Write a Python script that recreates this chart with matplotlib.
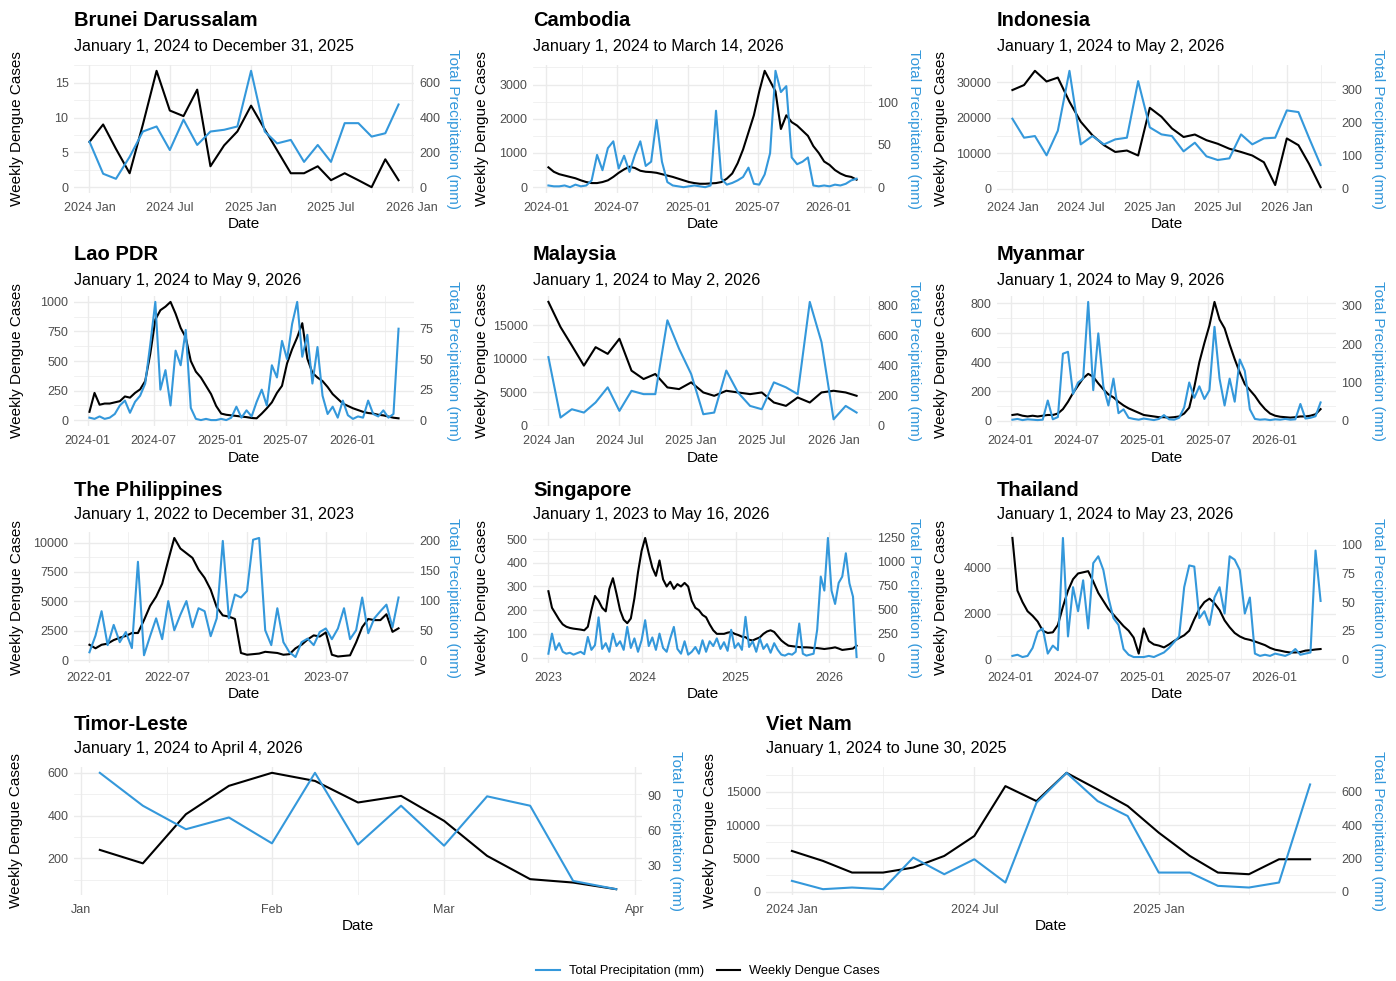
import matplotlib
matplotlib.use("Agg")
import matplotlib.pyplot as plt
import matplotlib.dates as mdates
from matplotlib.ticker import AutoMinorLocator, FixedLocator
from matplotlib.lines import Line2D
import pandas as pd

plt.rcParams["font.family"] = ["Liberation Sans", "DejaVu Sans"]

W, H = 1396, 981
CASES_COLOR = "#000000"
PRECIP_COLOR = "#3498db"
GRID = "#ebebeb"
TICK_COLOR = "#4d4d4d"

# ---------------- data ----------------
brunei_dates = pd.date_range("2024-01-01", periods=24, freq="MS")
brunei_cases = [6.5, 9, 5.5, 2, 9, 16.7, 11, 10.2, 14, 3, 6, 8,
                11.7, 8.3, 5.3, 2, 2, 3, 1, 2, 1, 0, 4, 1]
brunei_precip = [261, 77, 48, 174, 319, 348, 213, 387, 242, 319, 329, 348,
                 667, 319, 251, 271, 145, 242, 145, 367, 367, 290, 309, 474]

cambodia_dates = pd.date_range("2024-01-06", periods=58, freq="14D")
cambodia_cases = [580, 450, 380, 340, 300, 260, 200, 150, 120, 120,
                  150, 200, 300, 420, 520, 600, 560, 480, 450, 440,
                  420, 380, 340, 300, 250, 200, 150, 120, 100, 100,
                  110, 120, 150, 250, 400, 700, 1100, 1600, 2100, 2800,
                  3400, 3100, 2800, 1700, 2100, 1900, 1800, 1650, 1500, 1200,
                  1000, 750, 650, 500, 400, 330, 300, 220]
cambodia_precip = [2, 1, 1, 2, 0, 3, 1, 2, 8, 38,
                   20, 46, 54, 22, 37, 18, 38, 54, 25, 30,
                   79, 30, 6, 2, 1, 0, 1, 2, 1, 0,
                   2, 90, 10, 3, 5, 8, 12, 23, 4, 3,
                   15, 40, 137, 112, 119, 35, 27, 30, 35, 2,
                   1, 2, 1, 3, 2, 4, 8, 10]

indonesia_dates = pd.date_range("2024-01-01", periods=28, freq="MS")
indonesia_cases = [27800, 29200, 33200, 30200, 31300, 24500, 18900, 15100, 12300, 10400,
                   10800, 9400, 22800, 20300, 17000, 14600, 15300, 13700, 12700, 11300,
                   10400, 9400, 7500, 1100, 14200, 12300, 7100, 500]
indonesia_precip = [211, 154, 159, 101, 175, 355, 134, 159, 134, 149,
                    154, 324, 185, 164, 159, 113, 139, 98, 87, 92,
                    164, 134, 152, 154, 236, 231, 154, 72]

lao_dates = pd.date_range("2024-01-06", periods=62, freq="14D")
lao_cases = [70, 230, 130, 140, 140, 150, 160, 200, 190, 230,
             260, 330, 560, 850, 930, 960, 1000, 900, 780, 700,
             500, 410, 360, 290, 220, 120, 55, 45, 40, 35,
             30, 25, 18, 15, 55, 100, 150, 230, 290, 480,
             600, 700, 820, 520, 400, 360, 330, 280, 220, 180,
             140, 120, 100, 85, 70, 60, 55, 45, 40, 30,
             20, 15]
lao_precip = [2, 1, 3, 1, 2, 5, 12, 16, 6, 15,
              20, 30, 62, 97, 25, 41, 12, 57, 45, 74,
              10, 1, 0, 1, 0, 0, 1, 0, 2, 11,
              2, 8, 3, 15, 25, 12, 45, 35, 65, 50,
              79, 97, 52, 70, 30, 60, 20, 5, 11, 2,
              16, 4, 1, 3, 2, 16, 5, 3, 8, 2,
              5, 75]

malaysia_dates = pd.date_range("2024-01-01", periods=27, freq="MS")
malaysia_cases = [18500, 14750, 12000, 9000, 11750, 10750, 13000, 8250, 7000, 7750,
                  5750, 5500, 6500, 5000, 4500, 5250, 5000, 4750, 5000, 3500,
                  3000, 4250, 3500, 5000, 5250, 5000, 4500]
malaysia_precip = [456, 56, 111, 89, 156, 256, 100, 233, 211, 211,
                   700, 511, 344, 78, 89, 367, 222, 133, 111, 289,
                   256, 211, 822, 556, 44, 133, 89]

myanmar_dates = pd.date_range("2024-01-06", periods=62, freq="14D")
myanmar_cases = [40, 45, 35, 30, 35, 30, 35, 40, 40, 50,
                 80, 130, 190, 240, 290, 320, 300, 255, 215, 180,
                 160, 130, 105, 85, 70, 55, 40, 35, 30, 25,
                 25, 22, 25, 30, 50, 90, 230, 400, 530, 650,
                 810, 690, 630, 520, 420, 330, 250, 210, 170, 120,
                 80, 50, 35, 28, 25, 22, 25, 30, 30, 35,
                 45, 80]
myanmar_precip = [3, 5, 2, 4, 3, 2, 3, 53, 4, 10,
                  175, 180, 70, 100, 110, 310, 80, 228, 90, 40,
                  110, 20, 30, 8, 5, 3, 6, 4, 2, 5,
                  15, 4, 3, 8, 35, 100, 60, 90, 57, 80,
                  245, 110, 40, 110, 50, 160, 130, 30, 5, 3,
                  4, 2, 4, 3, 5, 3, 4, 44, 6, 8,
                  12, 48]

philippines_dates = pd.date_range("2022-01-01", periods=52, freq="14D")
philippines_cases = [1300, 1000, 1300, 1400, 1700, 1900, 2050, 2300, 2300, 3400,
                     4600, 5400, 6500, 8500, 10400, 9500, 9100, 8700, 7700, 7000,
                     6000, 4500, 3800, 3700, 3500, 600, 450, 500, 550, 700,
                     650, 600, 450, 500, 1000, 1300, 1750, 2100, 2000, 2350,
                     450, 300, 350, 400, 1500, 2800, 3500, 3400, 3400, 3900,
                     2400, 2700]
philippines_precip = [13, 41, 82, 25, 59, 30, 47, 20, 165, 8,
                      40, 70, 35, 99, 50, 76, 99, 55, 87, 82,
                      40, 70, 200, 70, 110, 105, 116, 202, 205, 50,
                      25, 87, 30, 13, 5, 30, 36, 25, 47, 53,
                      35, 53, 87, 35, 50, 105, 45, 70, 82, 93,
                      55, 105]

singapore_dates = pd.date_range("2023-01-01", periods=87, freq="14D")
singapore_cases = [280, 210, 185, 160, 140, 130, 125, 122, 120, 118,
                   115, 130, 200, 260, 240, 210, 195, 290, 335, 270,
                   200, 160, 145, 165, 250, 360, 450, 505, 440, 380,
                   345, 410, 330, 300, 320, 290, 310, 300, 315, 300,
                   240, 210, 200, 180, 170, 140, 115, 100, 100, 100,
                   105, 108, 100, 95, 88, 86, 75, 72, 79, 85,
                   100, 110, 115, 108, 90, 72, 60, 50, 48, 46,
                   44, 43, 43, 42, 40, 40, 38, 36, 38, 40,
                   43, 38, 32, 34, 36, 38, 50]
singapore_precip = [40, 250, 80, 150, 60, 40, 50, 30, 45, 60,
                    35, 215, 80, 130, 420, 90, 150, 60, 250, 120,
                    170, 80, 320, 100, 200, 60, 180, 390, 120, 210,
                    80, 250, 100, 60, 200, 320, 90, 40, 170, 30,
                    60, 110, 40, 180, 60, 170, 120, 200, 90, 160,
                    70, 290, 100, 150, 80, 425, 110, 170, 60, 200,
                    90, 140, 50, 150, 80, 30, 20, 40, 30, 60,
                    355, 40, 20, 30, 40, 290, 846, 700, 1250, 700,
                    560, 780, 846, 1090, 776, 636, 5]

thailand_dates = pd.date_range("2024-01-06", periods=62, freq="14D")
thailand_cases = [5300, 3000, 2500, 2100, 1900, 1650, 1250, 1150, 1180, 1500,
                  2300, 3000, 3500, 3750, 3800, 3850, 3400, 2900, 2550, 2200,
                  1950, 1700, 1450, 1250, 950, 250, 1350, 800, 650, 600,
                  520, 650, 800, 930, 1050, 1250, 1750, 2200, 2500, 2650,
                  2450, 2150, 1700, 1400, 1150, 1000, 900, 850, 780, 700,
                  620, 500, 420, 380, 330, 300, 300, 320, 380, 400,
                  430, 450]
thailand_precip = [3, 4, 2, 3, 10, 24, 27, 5, 12, 8,
                   106, 20, 63, 42, 69, 27, 84, 90, 78, 54,
                   36, 30, 9, 4, 2, 2, 2, 3, 2, 4,
                   6, 10, 15, 20, 63, 82, 81, 36, 42, 30,
                   54, 63, 40, 90, 87, 78, 40, 54, 5, 3,
                   4, 3, 5, 4, 3, 5, 9, 4, 5, 6,
                   95, 51]

timor_dates = pd.date_range("2026-01-04", periods=13, freq="7D")
timor_cases = [239, 176, 406, 539, 600, 562, 461, 492, 375, 211, 102, 86, 55]
timor_precip = [109, 81, 61, 71, 49, 109, 48, 81, 47, 89, 81, 17, 10]

vietnam_dates = pd.date_range("2024-01-01", periods=18, freq="MS")
vietnam_cases = [6100, 4600, 2850, 2850, 3600, 5350, 8350, 15850, 13600, 17850,
                 15350, 12850, 8850, 5350, 2850, 2600, 4850, 4850]
vietnam_precip = [64, 14, 24, 14, 204, 104, 194, 54, 534, 714,
                  544, 454, 114, 114, 34, 24, 54, 644]

# tick values (left = cases, right = precipitation)
brunei_ticks = ([0, 5, 10, 15], [0, 200, 400, 600])
cambodia_ticks = ([0, 1000, 2000, 3000], [0, 50, 100])
indonesia_ticks = ([0, 10000, 20000, 30000], [0, 100, 200, 300])
lao_ticks = ([0, 250, 500, 750, 1000], [0, 25, 50, 75])
malaysia_ticks = ([0, 5000, 10000, 15000], [0, 200, 400, 600, 800])
myanmar_ticks = ([0, 200, 400, 600, 800], [0, 100, 200, 300])
philippines_ticks = ([0, 2500, 5000, 7500, 10000], [0, 50, 100, 150, 200])
singapore_ticks = ([0, 100, 200, 300, 400, 500], [0, 250, 500, 750, 1000, 1250])
thailand_ticks = ([0, 2000, 4000], [0, 25, 50, 75, 100])
timor_ticks = ([200, 400, 600], [30, 60, 90])
vietnam_ticks = ([0, 5000, 10000, 15000], [0, 200, 400, 600])
philippines_xticks = pd.to_datetime(["2022-01-01", "2022-07-01", "2023-01-01", "2023-07-01"])

fig = plt.figure(figsize=(W / 100, H / 100), dpi=100)


def add_panel(box, text_y, label_x, title, subtitle, dates, cases, precip, ticks,
              xstyle, fmt, xticks=None):
    left, top, right, bottom = box
    ax = fig.add_axes([left / W, 1 - bottom / H, (right - left) / W, (bottom - top) / H])
    ax2 = ax.twinx()
    ax.plot(dates, cases, color=CASES_COLOR, lw=1.5)
    ax2.plot(dates, precip, color=PRECIP_COLOR, lw=1.5)
    ax.margins(x=0.05)

    # ggplot-style secondary axis: precip scaled so both maxima line up
    f = max(cases) / max(precip)
    lo = min(min(cases), min(precip) * f)
    hi = max(cases)
    pad = 0.05 * (hi - lo)
    ax.set_ylim(lo - pad, hi + pad)
    ax2.set_ylim((lo - pad) / f, (hi + pad) / f)
    ax.set_yticks(ticks[0])
    ax2.set_yticks(ticks[1])
    ax.yaxis.set_minor_locator(AutoMinorLocator(2))

    if xstyle == "half":
        ax.xaxis.set_major_locator(mdates.MonthLocator(bymonth=[1, 7]))
        ax.xaxis.set_minor_locator(mdates.MonthLocator(bymonth=[4, 10]))
    elif xstyle == "year":
        ax.xaxis.set_major_locator(mdates.YearLocator())
        ax.xaxis.set_minor_locator(mdates.MonthLocator(bymonth=[7]))
    else:
        ax.xaxis.set_major_locator(mdates.MonthLocator())
        ax.xaxis.set_minor_locator(mdates.MonthLocator(bymonthday=15))
    if xticks is not None:
        ax.xaxis.set_major_locator(FixedLocator(mdates.date2num(xticks)))
    ax.xaxis.set_major_formatter(mdates.DateFormatter(fmt))

    ax.set_axisbelow(True)
    ax.grid(which="major", color=GRID, lw=1.0)
    ax.grid(which="minor", color=GRID, lw=0.5)
    for a in (ax, ax2):
        for s in a.spines.values():
            s.set_visible(False)
        a.tick_params(which="both", length=0, labelsize=9, colors=TICK_COLOR)
        a.tick_params(axis="y", pad=4)
    ax.tick_params(axis="x", pad=6.5)

    ax.set_xlabel("Date", fontsize=11, labelpad=2.5)
    ymid = 1 - (top + bottom) / 2 / H
    fig.text(label_x[0] / W, ymid, "Weekly Dengue Cases", fontsize=11,
             rotation=90, ha="center", va="center")
    fig.text(label_x[1] / W, ymid, "Total Precipitation (mm)", fontsize=11,
             rotation=270, ha="center", va="center", color=PRECIP_COLOR)

    fig.text(left / W, 1 - text_y[0] / H, title, fontsize=14.5, fontweight="bold", va="center")
    fig.text(left / W, 1 - text_y[1] / H, subtitle, fontsize=11.6, va="center")


C1, C2, C3 = (74, 414), (533, 872), (997, 1336)
R1, R2, R3, R4 = (65, 193), (296, 426), (532, 663), (767, 895)
T1, T2, T3, T4 = (21, 46), (255, 281), (490, 515), (724, 749)
L1, L2, L3 = (17, 453), (482, 914), (941, 1378)

add_panel((C1[0], R1[0], C1[1], R1[1]), T1, L1, "Brunei Darussalam",
          "January 1, 2024 to December 31, 2025",
          brunei_dates, brunei_cases, brunei_precip, brunei_ticks, "half", "%Y %b")
add_panel((C2[0], R1[0], C2[1], R1[1]), T1, L2, "Cambodia", "January 1, 2024 to March 14, 2026",
          cambodia_dates, cambodia_cases, cambodia_precip, cambodia_ticks, "half", "%Y-%m")
add_panel((C3[0], R1[0], C3[1], R1[1]), T1, L3, "Indonesia", "January 1, 2024 to May 2, 2026",
          indonesia_dates, indonesia_cases, indonesia_precip, indonesia_ticks, "half", "%Y %b")
add_panel((C1[0], R2[0], C1[1], R2[1]), T2, L1, "Lao PDR", "January 1, 2024 to May 9, 2026",
          lao_dates, lao_cases, lao_precip, lao_ticks, "half", "%Y-%m")
add_panel((C2[0], R2[0], C2[1], R2[1]), T2, L2, "Malaysia", "January 1, 2024 to May 2, 2026",
          malaysia_dates, malaysia_cases, malaysia_precip, malaysia_ticks, "half", "%Y %b")
add_panel((C3[0], R2[0], C3[1], R2[1]), T2, L3, "Myanmar", "January 1, 2024 to May 9, 2026",
          myanmar_dates, myanmar_cases, myanmar_precip, myanmar_ticks, "half", "%Y-%m")
add_panel((C1[0], R3[0], C1[1], R3[1]), T3, L1, "The Philippines",
          "January 1, 2022 to December 31, 2023",
          philippines_dates, philippines_cases, philippines_precip, philippines_ticks,
          "half", "%Y-%m", xticks=philippines_xticks)
add_panel((C2[0], R3[0], C2[1], R3[1]), T3, L2, "Singapore", "January 1, 2023 to May 16, 2026",
          singapore_dates, singapore_cases, singapore_precip, singapore_ticks, "year", "%Y")
add_panel((C3[0], R3[0], C3[1], R3[1]), T3, L3, "Thailand", "January 1, 2024 to May 23, 2026",
          thailand_dates, thailand_cases, thailand_precip, thailand_ticks, "half", "%Y-%m")
add_panel((74, R4[0], 642, R4[1]), T4, (16, 676), "Timor-Leste", "January 1, 2024 to April 4, 2026",
          timor_dates, timor_cases, timor_precip, timor_ticks, "month", "%b")
add_panel((766, R4[0], 1336, R4[1]), T4, (710, 1378), "Viet Nam", "January 1, 2024 to June 30, 2025",
          vietnam_dates, vietnam_cases, vietnam_precip, vietnam_ticks, "half", "%Y %b")

handles = [Line2D([], [], color=PRECIP_COLOR, lw=1.5), Line2D([], [], color=CASES_COLOR, lw=1.5)]
fig.legend(handles, ["Total Precipitation (mm)", "Weekly Dengue Cases"], loc="center",
           bbox_to_anchor=(708 / W, 1 - 971 / H), ncol=2, frameon=False, fontsize=9.3,
           handlelength=1.8, handletextpad=0.7, columnspacing=1.0)

fig.savefig("out.png", dpi=100)
